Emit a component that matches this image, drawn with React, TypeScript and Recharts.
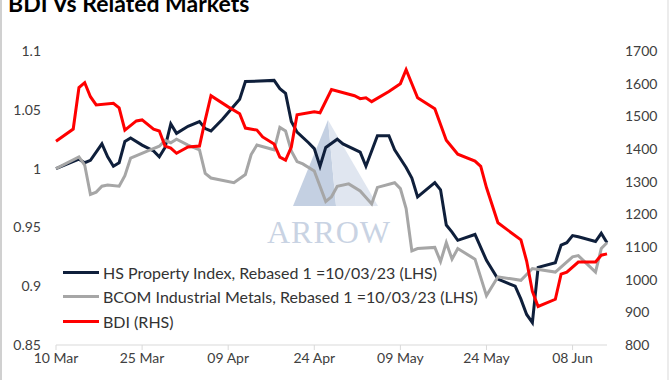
import React from 'react';
import { LineChart, Line, XAxis, YAxis } from 'recharts';

// x positions are calendar days since 10 Mar 2023
const hsDays = [0, 4, 5, 6, 8, 9, 10, 11, 12, 13, 15, 17, 18, 19, 20, 21, 23, 25, 26, 27, 29, 32, 33, 38, 39, 40, 41, 42, 44, 45, 46, 47, 49, 50, 53, 54, 56, 58, 59, 61, 62, 63, 66, 67, 68, 69, 70, 73, 75, 77, 80, 81, 82, 83, 84, 87, 88, 89, 90, 91, 94, 95, 96];
const hsValues = [1.0, 1.008, 1.005, 1.007, 1.021, 1.01, 1.002, 1.005, 1.023, 1.026, 1.02, 1.015, 1.01, 1.018, 1.038, 1.03, 1.036, 1.04, 1.034, 1.032, 1.042, 1.059, 1.074, 1.075, 1.068, 1.064, 1.04, 1.031, 1.022, 1.017, 1.002, 1.018, 1.025, 1.021, 1.014, 1.002, 1.028, 1.028, 1.016, 1.001, 0.992, 0.976, 0.988, 0.982, 0.952, 0.946, 0.939, 0.944, 0.922, 0.906, 0.9, 0.889, 0.876, 0.869, 0.916, 0.92, 0.935, 0.937, 0.943, 0.942, 0.938, 0.945, 0.937];

const bcomDays = [0, 4, 5, 6, 7, 8, 9, 11, 12, 13, 16, 18, 19, 20, 21, 23, 25, 26, 27, 31, 33, 34, 35, 38, 39, 40, 41, 42, 43, 45, 46, 47, 48, 49, 51, 53, 55, 56, 59, 60, 61, 62, 63, 66, 67, 68, 69, 70, 73, 75, 77, 81, 83, 87, 90, 91, 94, 95, 96];
const bcomValues = [1.0, 1.01, 1.003, 0.978, 0.98, 0.985, 0.986, 0.985, 0.994, 1.009, 1.015, 1.019, 1.024, 1.022, 1.025, 1.02, 1.016, 0.996, 0.992, 0.988, 0.995, 1.012, 1.02, 1.016, 1.035, 1.032, 1.015, 1.006, 1.004, 0.998, 0.985, 0.972, 0.976, 0.985, 0.987, 0.981, 0.97, 0.984, 0.988, 0.983, 0.966, 0.93, 0.932, 0.933, 0.921, 0.937, 0.923, 0.932, 0.923, 0.892, 0.908, 0.905, 0.915, 0.912, 0.925, 0.926, 0.912, 0.932, 0.937];

const bdiDays = [0, 3, 4, 5, 6, 7, 10, 11, 12, 14, 15, 17, 18, 19, 20, 21, 23, 25, 26, 27, 30, 32, 33, 35, 36, 38, 39, 40, 41, 42, 45, 46, 48, 52, 53, 54, 55, 58, 60, 61, 63, 66, 68, 70, 73, 74, 75, 77, 81, 82, 83, 84, 87, 88, 89, 91, 94, 95, 96];
const bdiValues = [1424, 1461, 1588, 1603, 1560, 1535, 1540, 1526, 1458, 1486, 1489, 1461, 1455, 1409, 1403, 1387, 1406, 1409, 1489, 1563, 1529, 1508, 1464, 1458, 1437, 1415, 1375, 1366, 1406, 1505, 1514, 1511, 1582, 1563, 1554, 1557, 1545, 1576, 1600, 1643, 1557, 1523, 1427, 1384, 1363, 1347, 1282, 1174, 1122, 1057, 964, 918, 940, 1017, 1023, 1054, 1054, 1075, 1079];

const xTickDays = [0, 15, 30, 45, 60, 75, 90];
const xTickLabels = ['10 Mar', '25 Mar', '09 Apr', '24 Apr', '09 May', '24 May', '08 Jun'];
const leftTicks = [0.85, 0.9, 0.95, 1, 1.05, 1.1];
const rightTicks = [800, 900, 1000, 1100, 1200, 1300, 1400, 1500, 1600, 1700];

const title = 'BDI Vs Related Markets';
const series = [
  { key: 'hs', name: 'HS Property Index, Rebased 1 =10/03/23 (LHS)', color: '#0f1f3b', axis: 'left', days: hsDays, values: hsValues },
  { key: 'bcom', name: 'BCOM Industrial Metals, Rebased 1 =10/03/23 (LHS)', color: '#a6a6a6', axis: 'left', days: bcomDays, values: bcomValues },
  { key: 'bdi', name: 'BDI (RHS)', color: '#ff0000', axis: 'right', days: bdiDays, values: bdiValues },
];

function buildTable() {
  const map = new Map<number, any>();
  series.forEach((s) => {
    s.days.forEach((d, i) => {
      const row = map.get(d) ?? { d };
      row[s.key] = s.values[i];
      map.set(d, row);
    });
  });
  return Array.from(map.values()).sort((a, b) => a.d - b.d);
}
const data = buildTable();

const FONT = 'Lato, "Open Sans", sans-serif';
const tickStyle = { fontFamily: FONT, fontSize: 14, fill: '#404040' };

export default function App() {
  return (
    <div style={{ position: 'absolute', left: 0, top: 0, width: 670, height: 380, background: '#fff', overflow: 'hidden' }}>
      <svg width={670} height={380} style={{ position: 'absolute', left: 0, top: 0 }}>
        <line x1={1} y1={0} x2={1} y2={380} stroke="#d0d0d0" strokeWidth={2} />
        <line x1={668} y1={0} x2={668} y2={380} stroke="#d9d9d9" strokeWidth={1} />
        <text x={8} y={12} fontFamily={FONT} fontWeight={700} fontSize={23} fill="#000">{title}</text>
        <polygon points="328,120 293,206 336,206" fill="#c4d0e2" />
        <polygon points="328,120 336,206 378,206" fill="#e0e6f0" />
        <text x={329} y={243} textAnchor="middle" fontFamily='"Liberation Serif", "DejaVu Serif", serif' fontSize={32} fill="#c9d3e3" letterSpacing={1}>ARROW</text>
      </svg>
      <div style={{ position: 'absolute', left: 0, top: 0 }}>
        <LineChart width={670} height={380} data={data} margin={{ top: 51, right: 8, bottom: 5, left: 11 }}>
          <XAxis
            dataKey="d"
            type="number"
            domain={[0, 96]}
            ticks={xTickDays}
            tickFormatter={(v: number) => xTickLabels[xTickDays.indexOf(v)] ?? ''}
            height={30}
            tick={tickStyle}
            stroke="#d9d9d9"
            tickSize={5}
            tickMargin={3}
            interval={0}
          />
          <YAxis
            yAxisId="left"
            orientation="left"
            domain={[0.85, 1.1]}
            ticks={leftTicks}
            width={45}
            axisLine={false}
            tickLine={false}
            tick={tickStyle}
            tickMargin={9}
            tickFormatter={(v: number) => String(Number(v.toFixed(2)))}
            allowDataOverflow
          />
          <YAxis
            yAxisId="right"
            orientation="right"
            domain={[800, 1700]}
            ticks={rightTicks}
            width={55}
            axisLine={false}
            tickLine={false}
            tick={{ ...tickStyle, textAnchor: 'start' }}
            tickMargin={12}
            allowDataOverflow
          />
          {series.map((s) => (
            <Line
              key={s.key}
              yAxisId={s.axis}
              dataKey={s.key}
              name={s.name}
              stroke={s.color}
              strokeWidth={3}
              dot={false}
              activeDot={false}
              connectNulls
              type="linear"
              isAnimationActive={false}
            />
          ))}
        </LineChart>
      </div>
      <div style={{ position: 'absolute', left: 63, top: 260, fontFamily: FONT, fontSize: 16, color: '#333' }}>
        {series.map((s) => (
          <div key={s.key} style={{ display: 'flex', alignItems: 'center', height: 24.5, whiteSpace: 'nowrap' }}>
            <div style={{ width: 36, height: 3, background: s.color, marginRight: 4 }} />
            <span>{s.name}</span>
          </div>
        ))}
      </div>
    </div>
  );
}
